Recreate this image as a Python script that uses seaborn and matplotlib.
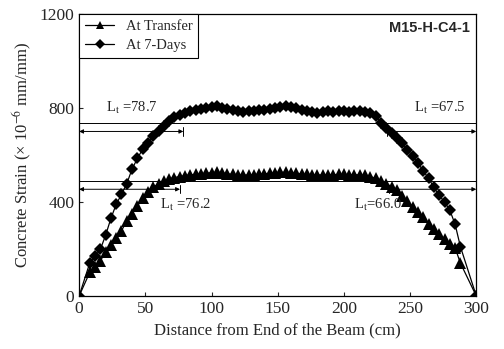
import matplotlib

matplotlib.use("Agg")
import matplotlib.pyplot as plt
import pandas as pd
import seaborn as sns

# distance along the beam (cm) and measured strains (x 10^-6)
x_cm = [0, 8, 12, 16, 20, 24, 28, 32, 36, 40, 44, 48, 52, 56, 60, 64, 68, 72,
        76, 80, 84, 88, 92, 96, 100, 104, 108, 112, 116, 120, 124, 128, 132,
        136, 140, 144, 148, 152, 156, 160, 164, 168, 172, 176, 180, 184, 188,
        192, 196, 200, 204, 208, 212, 216, 220, 224, 228, 232, 236, 240, 244,
        248, 252, 256, 260, 264, 268, 272, 276, 280, 284, 288, 300]

strain_transfer = [0, 100, 125, 150, 185, 215, 245, 278, 318, 350, 382, 418,
                   444, 462, 478, 490, 498, 504, 508, 512, 515, 518, 520, 522,
                   525, 526, 524, 520, 517, 515, 514, 515, 516, 518, 520, 522,
                   524, 526, 526, 525, 522, 519, 517, 516, 515, 515, 516, 516,
                   517, 517, 516, 516, 515, 513, 508, 500, 490, 478, 465, 450,
                   425, 402, 380, 358, 335, 308, 285, 262, 242, 222, 205, 140, 0]

strain_7days = [0, 140, 168, 198, 258, 330, 390, 432, 478, 540, 585, 625, 650,
                680, 702, 725, 745, 760, 772, 780, 787, 792, 796, 800, 806, 808,
                801, 795, 790, 786, 783, 785, 788, 790, 792, 795, 800, 806, 808,
                805, 798, 790, 785, 782, 780, 782, 785, 783, 785, 786, 784, 785,
                786, 784, 780, 765, 738, 715, 695, 672, 650, 622, 595, 565, 532,
                500, 462, 428, 400, 365, 305, 210, 0]

# average maximum strain and 95% AMS levels
ams_levels = [490, 735]
ams95_levels = [454, 700]
# transfer lengths: [left, right] for transfer and 7 days
lt_transfer = [76.2, 66.0]
lt_7days = [78.7, 67.5]
beam_length = 300

df = pd.DataFrame({
    "x": x_cm * 2,
    "strain": strain_transfer + strain_7days,
    "series": ["At Transfer"] * len(x_cm) + ["At 7-Days"] * len(x_cm),
})

sns.set_style("ticks")
plt.rcParams["font.family"] = ["Liberation Serif", "DejaVu Serif"]
plt.rcParams["mathtext.fontset"] = "stix"
plt.rcParams["xtick.direction"] = "in"
plt.rcParams["ytick.direction"] = "in"

fig = plt.figure(figsize=(5.04, 3.49), dpi=100)
ax = fig.add_axes([0.157, 0.152, 0.788, 0.808])

sns.lineplot(data=df[df.series == "At Transfer"], x="x", y="strain",
             color="black", marker="^", markersize=8, markeredgewidth=0,
             linewidth=0.9, label="At Transfer", ax=ax)
sns.lineplot(data=df[df.series == "At 7-Days"], x="x", y="strain",
             color="black", marker="D", markersize=6.3, markeredgewidth=0,
             linewidth=0.9, label="At 7-Days", ax=ax)

# AMS lines and transfer-length dimension arrows
arrow_kw = dict(arrowstyle="<|-|>", color="black", lw=0.7,
                shrinkA=0, shrinkB=0, mutation_scale=6)
for ams, ams95, lt in [(ams_levels[0], ams95_levels[0], lt_transfer),
                       (ams_levels[1], ams95_levels[1], lt_7days)]:
    ax.axhline(ams, color="black", lw=0.7)
    ax.annotate("", xy=(0, ams95), xytext=(lt[0], ams95), arrowprops=arrow_kw)
    ax.annotate("", xy=(beam_length, ams95), xytext=(beam_length - lt[1], ams95),
                arrowprops=arrow_kw)
    ax.plot([lt[0], lt[0]], [ams95 - 18, ams95 + 18], color="black", lw=0.7)
    ax.plot([beam_length - lt[1]] * 2, [ams95 - 18, ams95 + 18],
            color="black", lw=0.7)

lt_fmt = r"L$_\mathrm{t}$"
ax.text(20, 800, f"{lt_fmt} ={lt_7days[0]}", fontsize=10.5, va="center", ha="left")
ax.text(292, 800, f"{lt_fmt} ={lt_7days[1]}", fontsize=10.5, va="center",
        ha="right")
ax.text(61, 388, f"{lt_fmt} ={lt_transfer[0]}", fontsize=10.5, va="center",
        ha="left")
ax.text(244, 388, f"{lt_fmt}={lt_transfer[1]:.1f}", fontsize=10.5, va="center",
        ha="right")

ax.text(0.985, 0.95, "M15-H-C4-1", transform=ax.transAxes, ha="right",
        va="center", fontsize=10.5, fontweight="bold",
        family=["Liberation Sans", "DejaVu Sans"])

ax.set_xlim(0, 300)
ax.set_ylim(0, 1200)
ax.set_xticks([0, 50, 100, 150, 200, 250, 300])
ax.set_yticks([0, 400, 800, 1200])
ax.tick_params(labelsize=12.5, length=3, width=0.8)
ax.set_xlabel("Distance from End of the Beam (cm)", fontsize=12)
ax.set_ylabel("Concrete Strain (× 10$^{-6}$ mm/mm)", fontsize=12)
for sp in ax.spines.values():
    sp.set_color("black")
    sp.set_linewidth(0.9)

leg = ax.legend(loc="upper left", borderaxespad=0, fancybox=False,
                edgecolor="black", framealpha=1, fontsize=10.5,
                handlelength=2.0, borderpad=0.4, labelspacing=0.4,
                markerscale=0.8)
leg.get_frame().set_linewidth(0.8)

fig.savefig("out.png", dpi=100)
